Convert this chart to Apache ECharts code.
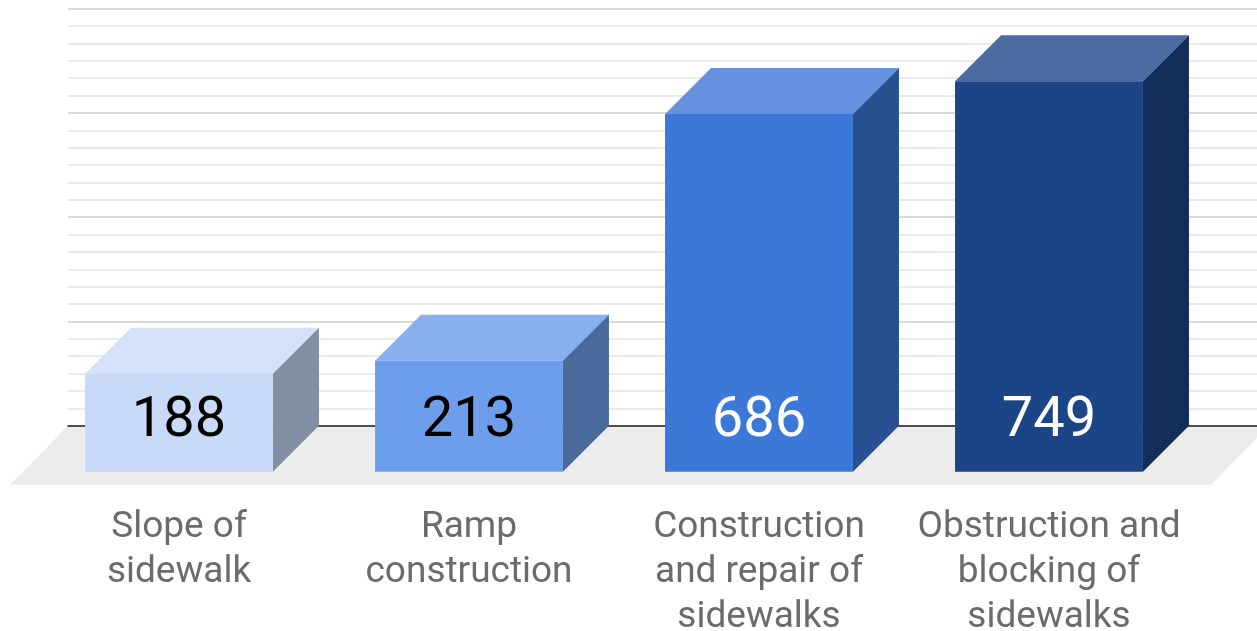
<!DOCTYPE html>
<html>
<head>
<meta charset="utf-8">
<script src="https://cdn.jsdelivr.net/npm/echarts@6/dist/echarts.min.js"></script>
<style>
  html, body { margin: 0; padding: 0; background: #fff; }
  #chart { width: 1257px; height: 631px; }
</style>
</head>
<body>
<div id="chart"></div>
<script>
const categories = [
  'Slope of\nsidewalk',
  'Ramp\nconstruction',
  'Construction\nand repair of\nsidewalks',
  'Obstruction and\nblocking of\nsidewalks'
];
const values = [188, 213, 686, 749];
const frontColors = ['#c9daf8', '#6d9eeb', '#3c78d8', '#1c4587'];
const topColors = ['#d4e1f8', '#88afef', '#6491e0', '#4a6aa0'];
const sideColors = ['#8390a3', '#4a6a9c', '#26508f', '#122d5a'];
const labelColors = ['#000000', '#000000', '#ffffff', '#ffffff'];

// depth of the pseudo-3d boxes, in pixels
const DX = 46, DY = 46;

const chart = echarts.init(document.getElementById('chart'));

function renderFloor(params, api) {
  const cs = params.coordSys;
  const y0 = api.coord([0, 0])[1];
  const left = cs.x, right = cs.x + cs.width + 12;
  return {
    type: 'polygon',
    shape: {
      points: [[left, y0], [right, y0], [right - 58, y0 + 59], [left - 58, y0 + 59]]
    },
    style: { fill: '#ececec' }
  };
}

function renderBar(params, api) {
  const i = api.value(0);
  const top = api.coord([i, api.value(1)]);
  const base = api.coord([i, 0]);
  const w = api.size([0.648, 0])[0];
  // front face is shifted toward the viewer
  const fl = top[0] - w / 2 - DX;
  const fr = fl + w;
  const ft = top[1] + DY;
  const fb = base[1] + DY;
  const idx = params.dataIndex;
  return {
    type: 'group',
    children: [
      {
        type: 'polygon',
        shape: { points: [[fl, ft], [fr, ft], [fr + DX, ft - DY], [fl + DX, ft - DY]] },
        style: { fill: topColors[idx] }
      },
      {
        type: 'polygon',
        shape: { points: [[fr, ft], [fr + DX, ft - DY], [fr + DX, fb - DY], [fr, fb]] },
        style: { fill: sideColors[idx] }
      },
      {
        type: 'rect',
        shape: { x: fl, y: ft, width: w, height: fb - ft },
        style: { fill: frontColors[idx] }
      },
      {
        type: 'text',
        style: {
          text: String(values[idx]),
          x: (fl + fr) / 2,
          y: fb - 50,
          align: 'center',
          verticalAlign: 'middle',
          fontFamily: 'Roboto',
          fontSize: 56,
          fill: labelColors[idx]
        }
      },
      {
        type: 'text',
        style: {
          text: categories[idx],
          x: (fl + fr) / 2,
          y: fb + 34,
          align: 'center',
          verticalAlign: 'top',
          fontFamily: 'Roboto',
          fontSize: 37,
          lineHeight: 45,
          fill: '#6b6b6b'
        }
      }
    ]
  };
}

chart.setOption({
  animation: false,
  grid: {
    left: 68,
    right: 0,
    top: 8.7,
    bottom: 205.3
  },
  xAxis: {
    type: 'value',
    min: -0.5414,
    max: 3.5586,
    axisLine: { show: true, onZero: true, lineStyle: { color: '#222', width: 1.5 } },
    axisTick: { show: false },
    axisLabel: { show: false },
    splitLine: { show: false }
  },
  yAxis: {
    type: 'value',
    min: 0,
    max: 800,
    interval: 200,
    axisLine: { show: false },
    axisTick: { show: false },
    axisLabel: { show: false },
    splitLine: { lineStyle: { color: '#cccccc', width: 1.5 } },
    minorTick: { show: false, splitNumber: 6 },
    minorSplitLine: { show: true, lineStyle: { color: '#e4e4e4', width: 1.5 } }
  },
  series: [
    {
      type: 'custom',
      z: -1,
      silent: true,
      renderItem: renderFloor,
      data: [[0, 0]]
    },
    {
      type: 'custom',
      renderItem: renderBar,
      clip: false,
      data: values.map((v, i) => [i, v])
    }
  ]
});
</script>
</body>
</html>
